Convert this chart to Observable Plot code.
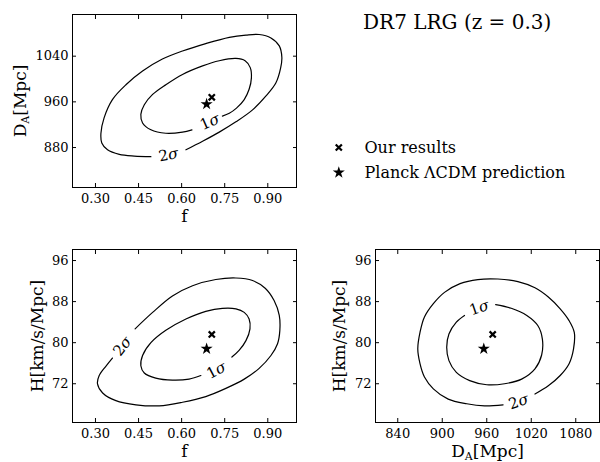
<!DOCTYPE html>
<html><head><meta charset="utf-8">
<script src="https://cdn.jsdelivr.net/npm/d3@7"></script>
<script src="https://cdn.jsdelivr.net/npm/@observablehq/plot@0.6"></script>
<style>
body{margin:0;background:#fff;}
#chart{position:relative;width:600px;height:462px;background:#fff;overflow:hidden;}
#chart svg{position:absolute;}
</style></head><body><div id="chart"></div>
<script>
// ---------------- data ----------------
const fTicks = [0.30, 0.45, 0.60, 0.75, 0.90];
const daTicksY = [880, 960, 1040];
const daTicksX = [840, 900, 960, 1020, 1080];
const hTicks = [72, 80, 88, 96];

const title = "DR7 LRG (z = 0.3)";
const legendLabels = ["Our results", "Planck \u039BCDM prediction"];

const ourResult = [{f: 0.705, da: 968, h: 81.6}];
const planck = [{f: 0.687, da: 956, h: 78.8}];

// contour lines [x, y] (open: gap where the inline label sits)
const fDa2Sigma = [[0.615,876],[0.673,891],[0.731,907],[0.789,925],[0.847,946],[0.893,970],[0.928,993],[0.945,1020],[0.949,1038],[0.940,1058],[0.911,1072],[0.870,1078],[0.824,1077],[0.766,1073],[0.684,1062],[0.603,1049],[0.533,1035],[0.464,1014],[0.406,990],[0.359,964],[0.330,932],[0.319,905],[0.322,888],[0.342,876],[0.383,868],[0.435,865],[0.493,864]];
const fDa1Sigma = [[0.742,935],[0.766,940],[0.791,949],[0.818,964],[0.835,982],[0.843,1002],[0.839,1020],[0.821,1032],[0.789,1036],[0.731,1032],[0.673,1023],[0.603,1008],[0.545,990],[0.499,973],[0.470,955],[0.458,938],[0.464,923],[0.493,911],[0.545,905],[0.603,907],[0.636,911]];
const fH2Sigma = [[0.438,82.7],[0.499,85.9],[0.568,89.1],[0.638,91.1],[0.719,92.3],[0.789,92.6],[0.847,92.1],[0.891,90.6],[0.922,88.2],[0.940,85.3],[0.942,82.4],[0.934,79.8],[0.911,77.5],[0.870,75.0],[0.818,72.9],[0.754,71.1],[0.684,69.5],[0.603,68.4],[0.522,67.7],[0.441,67.9],[0.371,68.7],[0.325,70.2],[0.307,72.0],[0.313,73.6],[0.336,75.4],[0.359,77.0]];
const fH1Sigma = [[0.775,77.2],[0.800,78.5],[0.824,80.4],[0.838,82.7],[0.835,84.6],[0.818,85.9],[0.789,86.6],[0.742,86.7],[0.684,86.1],[0.615,84.6],[0.545,82.4],[0.493,80.0],[0.464,77.5],[0.458,75.5],[0.470,74.1],[0.510,73.1],[0.568,72.7],[0.626,72.9],[0.667,73.6]];
const daH2Sigma = [[1025,70.0],[1043,71.6],[1059,73.6],[1071,75.9],[1077,78.8],[1078,82.0],[1071,84.3],[1059,86.6],[1043,88.9],[1025,90.7],[1002,91.9],[975,92.4],[948,92.3],[924,91.5],[903,89.8],[888,87.6],[876,85.0],[870,82.0],[867,78.8],[870,75.9],[876,73.3],[888,71.0],[908,69.0],[933,68.1],[957,67.7],[982,67.9]];
const daH1Sigma = [[972,87.4],[993,86.7],[1014,85.3],[1029,83.3],[1035,80.7],[1034,77.6],[1025,74.9],[1007,72.9],[984,72.0],[960,71.8],[937,72.6],[919,74.2],[909,76.5],[906,79.1],[909,81.7],[919,84.0],[930,85.3]];

// inline contour labels
const fDaLabels = [{t: "1\u03C3", x: 0.698, y: 925}, {t: "2\u03C3", x: 0.554, y: 867}];
const fHLabels = [{t: "2\u03C3", x: 0.394, y: 79.3}, {t: "1\u03C3", x: 0.721, y: 74.6}];
const daHLabels = [{t: "1\u03C3", x: 950, y: 86.8}, {t: "2\u03C3", x: 1003, y: 68.5}];

// ---------------- drawing ----------------
const FONT = "'DejaVu Serif', 'Liberation Serif', serif";
const fmt2 = d3.format(".2f");
const fmtInt = d => String(d);

function panel(o) {
  const blank = () => "";
  const p = Plot.plot({
    width: 300, height: o.height,
    marginLeft: o.ml, marginRight: o.mr, marginTop: o.mt, marginBottom: o.mb,
    x: {domain: o.xDomain},
    y: {domain: o.yDomain},
    style: {fontFamily: FONT, fontSize: "13px", color: "black", background: "white", overflow: "visible"},
    marks: [
      Plot.frame({stroke: "black", strokeWidth: 1}),
      Plot.axisX({anchor: "bottom", ticks: o.xTicks, tickFormat: o.xFmt, tickSize: -4, tickPadding: 10, label: null}),
      Plot.axisX({anchor: "top", ticks: o.xTicks, tickFormat: blank, tickSize: -4, label: null}),
      Plot.axisY({anchor: "left", ticks: o.yTicks, tickFormat: o.yFmt, tickSize: -4, tickPadding: 8, label: null}),
      Plot.axisY({anchor: "right", ticks: o.yTicks, tickFormat: blank, tickSize: -4, label: null}),
      ...o.lines.map(l => Plot.line(l, {x: d => d[0], y: d => d[1], stroke: "black", strokeWidth: 1.2, curve: "catmull-rom"})),
      Plot.text(o.labels, {x: "x", y: "y", text: "t", rotate: (d, i) => o.rot[i], fontSize: 15}),
      Plot.dot(planck, {x: o.px, y: o.py, symbol: "star", r: 3.8, fill: "black", stroke: "none"}),
      Plot.dot(ourResult, {x: o.px, y: o.py, symbol: "times", r: 2.9, stroke: "black", strokeWidth: 2.2}),
      Plot.text([o.xLabel], {frameAnchor: "bottom", textAnchor: "middle", lineAnchor: "bottom", dy: 34, fontSize: 17}),
      Plot.text([o.yLabel], {frameAnchor: "left", textAnchor: "middle", lineAnchor: "middle", rotate: -90, dx: o.yLabelDx, fontSize: 17})
    ]
  });
  p.style.left = o.left + "px";
  p.style.top = o.top + "px";
  return p;
}

const chart = document.getElementById("chart");

chart.appendChild(panel({
  left: 0, top: 0, height: 230, ml: 72, mr: 4, mt: 14, mb: 43,
  xDomain: [0.22, 1.0], yDomain: [810, 1113],
  xTicks: fTicks, yTicks: daTicksY, xFmt: fmt2, yFmt: fmtInt,
  lines: [fDa2Sigma, fDa1Sigma], labels: fDaLabels, rot: [-24, -11],
  px: "f", py: "da", xLabel: "f", yLabel: "D_A[Mpc]", yLabelDx: -52
}));

chart.appendChild(panel({
  left: 0, top: 230, height: 232, ml: 72, mr: 4, mt: 19, mb: 40,
  xDomain: [0.22, 1.0], yDomain: [64.45, 98.15],
  xTicks: fTicks, yTicks: hTicks, xFmt: fmt2, yFmt: fmtInt,
  lines: [fH2Sigma, fH1Sigma], labels: fHLabels, rot: [-52, -28],
  px: "f", py: "h", xLabel: "f", yLabel: "H[km/s/Mpc]", yLabelDx: -35
}));

chart.appendChild(panel({
  left: 300, top: 230, height: 232, ml: 75, mr: 1, mt: 19, mb: 40,
  xDomain: [810, 1112], yDomain: [64.45, 98.15],
  xTicks: daTicksX, yTicks: hTicks, xFmt: fmtInt, yFmt: fmtInt,
  lines: [daH2Sigma, daH1Sigma], labels: daHLabels, rot: [-19, -19],
  px: "da", py: "h", xLabel: "D_A[Mpc]", yLabel: "H[km/s/Mpc]", yLabelDx: -36
}));

// title + legend
const leg = Plot.plot({
  width: 300, height: 230, margin: 0,
  x: {domain: [0, 1], axis: null},
  y: {type: "point", domain: legendLabels, range: [147, 172.5], padding: 0, axis: null},
  style: {fontFamily: FONT, fontSize: "16px", color: "black", background: "white", overflow: "visible"},
  marks: [
    Plot.text([title], {frameAnchor: "top", lineAnchor: "bottom", dx: 6.7, dy: 28.3, fontSize: 20}),
    Plot.dot([legendLabels[0]], {y: d => d, frameAnchor: "left", dx: 38.3, symbol: "times", r: 2.9, stroke: "black", strokeWidth: 2.2}),
    Plot.dot([legendLabels[1]], {y: d => d, frameAnchor: "left", dx: 38.3, symbol: "star", r: 3.8, fill: "black", stroke: "none"}),
    Plot.text(legendLabels, {y: d => d, text: d => d, frameAnchor: "left", textAnchor: "start", lineAnchor: "middle", dx: 64, fontSize: 16})
  ]
});
leg.style.left = "300px";
leg.style.top = "0px";
chart.appendChild(leg);

// typographic touches: subscript A and italic sigma
chart.querySelectorAll("text").forEach(t => {
  const s = t.textContent;
  if (s === "D_A[Mpc]") {
    t.textContent = "D";
    const sub = document.createElementNS("http://www.w3.org/2000/svg", "tspan");
    sub.setAttribute("font-size", "11px");
    sub.setAttribute("dy", "3");
    sub.textContent = "A";
    const rest = document.createElementNS("http://www.w3.org/2000/svg", "tspan");
    rest.setAttribute("dy", "-3");
    rest.textContent = "[Mpc]";
    t.appendChild(sub); t.appendChild(rest);
  } else if (/^[12]\u03C3$/.test(s)) {
    t.textContent = s[0];
    const sg = document.createElementNS("http://www.w3.org/2000/svg", "tspan");
    sg.setAttribute("font-style", "italic");
    sg.textContent = "\u03C3";
    t.appendChild(sg);
  }
});
</script></body></html>
